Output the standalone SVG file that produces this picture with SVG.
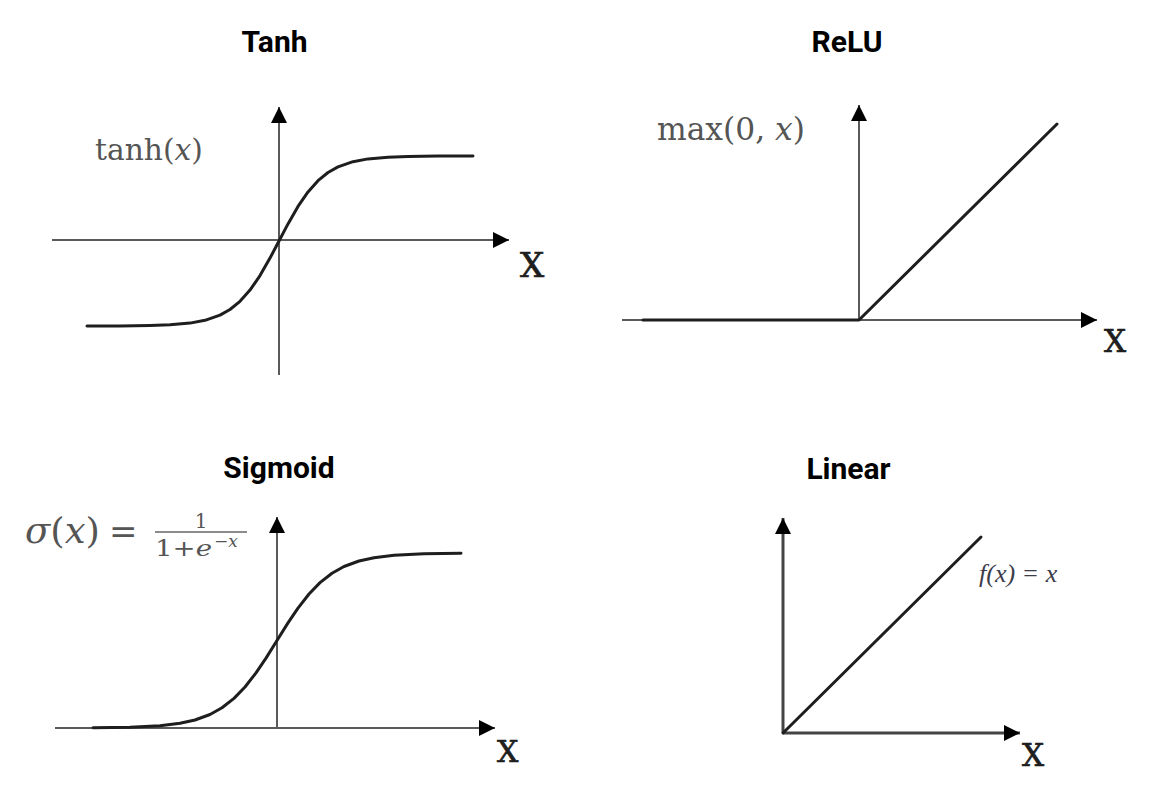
<svg xmlns="http://www.w3.org/2000/svg" width="1155" height="785" viewBox="0 0 1155 785">
<style>
.title{font-family:Roboto,"Liberation Sans",sans-serif;font-weight:700;font-size:30px;fill:#000;text-anchor:middle}
.axis{stroke:#5a5a5a;stroke-width:2;fill:none}
.curve{stroke:#1e1e1e;stroke-width:3;fill:none;stroke-linejoin:round;stroke-linecap:round}
.xl{font-family:"DejaVu Serif","Liberation Serif",serif;fill:#1e1e1e;stroke:#1e1e1e;stroke-width:0.7}
.fm{font-family:"DejaVu Serif","Liberation Serif",serif;fill:#555}
.it{font-style:italic}
</style>
<defs>
<marker id="ah" markerUnits="userSpaceOnUse" markerWidth="17" markerHeight="17" refX="16" refY="8" orient="auto" viewBox="0 0 17 17">
<path d="M0,0 L16,8 L0,16 z" fill="#000"/>
</marker>
</defs>
<rect width="1155" height="785" fill="#fff"/>

<g id="connectors">
<line class="axis" x1="52" y1="240" x2="509" y2="240" marker-end="url(#ah)"/>
<line class="axis" x1="279" y1="375" x2="279" y2="107" marker-end="url(#ah)"/>
<line class="axis" x1="622" y1="320" x2="1097" y2="320" marker-end="url(#ah)"/>
<line class="axis" x1="859" y1="320" x2="859" y2="105" marker-end="url(#ah)"/>
<line class="axis" x1="55" y1="728" x2="495" y2="728" marker-end="url(#ah)"/>
<line class="axis" x1="277" y1="728" x2="277" y2="517" marker-end="url(#ah)"/>
<line class="axis" style="stroke-width:3;stroke:#444" x1="783" y1="733" x2="1020" y2="733" marker-end="url(#ah)"/>
<line class="axis" style="stroke-width:3;stroke:#444" x1="783" y1="733" x2="783" y2="518" marker-end="url(#ah)"/>
</g>

<g id="tanh">
<text class="title" x="274.5" y="52">Tanh</text>
<text class="fm" x="95" y="160" font-size="29" textLength="108" lengthAdjust="spacingAndGlyphs">tanh(<tspan class="it">x</tspan>)</text>
<polyline class="curve" points="87,326 120,325.9 150,325.5 170,324.8 190,323.1 205,320.3 220,315.1 230,309.5 240,301.3 250,290.1 260,275.6 270,258.1 279,241 288,223.9 298,206.4 308,191.9 318,180.7 328,172.5 338,166.9 353,161.7 368,158.9 388,157.2 408,156.5 438,156.1 473,156"/>
<text class="xl" x="520" y="277" font-size="34">X</text>
</g>

<g id="relu">
<text class="title" x="847" y="52">ReLU</text>
<text class="fm" x="657" y="140" font-size="31" textLength="148" lengthAdjust="spacingAndGlyphs">max(0, <tspan class="it">x</tspan>)</text>
<polyline class="curve" points="643,320 859,320 1057,124"/>
<text class="xl" x="1104" y="352" font-size="31">X</text>
</g>

<g id="sigmoid">
<text class="title" x="279" y="478">Sigmoid</text>
<text class="fm" x="25" y="543" font-size="35" textLength="75" lengthAdjust="spacingAndGlyphs"><tspan class="it">σ</tspan>(<tspan class="it">x</tspan>)</text>
<text class="fm" x="109" y="543" font-size="34">=</text>
<text class="fm" x="201" y="528" font-size="20" text-anchor="middle">1</text>
<line x1="155" y1="532" x2="247" y2="532" stroke="#666" stroke-width="1.6"/>
<text class="fm" x="155" y="556" font-size="23" textLength="57" lengthAdjust="spacingAndGlyphs">1+<tspan class="it">e</tspan></text>
<text class="fm" x="214" y="547" font-size="17">−<tspan class="it">x</tspan></text>
<polyline class="curve" points="93,727.8 130,727.2 160,725.7 180,723.3 195,720 210,714.5 222,707.8 234,698.4 245,687 256,672.9 266,658.1 277,640.5 288,622.9 298,608.1 309,594 320,582.6 332,573.2 344,566.5 359,561 374,557.7 394,555.3 424,553.8 461,553.2"/>
<text class="xl" x="497" y="762" font-size="30">X</text>
</g>

<g id="linear">
<text class="title" x="848.5" y="479">Linear</text>
<polyline class="curve" points="783,733 981,537"/>
<text x="979" y="582" font-family="Liberation Serif, DejaVu Serif, serif" font-style="italic" font-size="26" fill="#3c3c4a">f(x) = x</text>
<text class="xl" x="1022" y="766" font-size="31">X</text>
</g>
</svg>
